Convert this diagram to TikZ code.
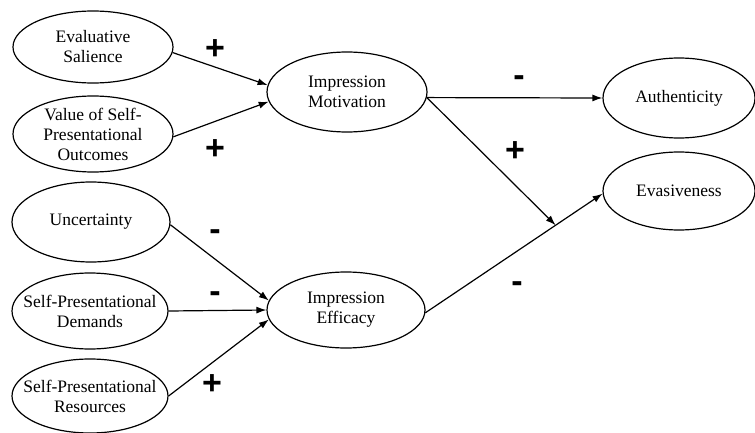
\documentclass[tikz,border=0pt]{standalone}
\usepackage{fontspec}
\setmainfont{Liberation Serif}
\newfontfamily\signfont{Liberation Sans}
\usetikzlibrary{shapes.geometric,arrows.meta,calc}
\tikzset{
  ell/.style={draw, ellipse, line width=1.2pt, inner sep=0pt},
  txt/.style={align=center, font=\fontsize{17.5}{20}\selectfont, inner sep=0pt},
  sign/.style={font=\signfont\bfseries\fontsize{34}{34}\selectfont, inner sep=0pt},
  arr/.style={line width=1.2pt, -{Latex[length=10pt,width=7pt]}},
  ln/.style={line width=1.2pt}
}
\begin{document}
\begin{tikzpicture}[x=1pt,y=-1pt]
\useasboundingbox (0,0) rectangle (755,433);
% ellipses
\node[ell, minimum width=160pt, minimum height=72pt] (es) at (93,47) {};
\node[ell, minimum width=160pt, minimum height=76pt] (vo) at (93,134) {};
\node[ell, minimum width=158pt, minimum height=80pt] (un) at (91,222) {};
\node[ell, minimum width=156pt, minimum height=76pt] (sd) at (90,311) {};
\node[ell, minimum width=156pt, minimum height=74pt] (sr) at (90,396) {};
\node[ell, minimum width=160pt, minimum height=80pt] (im) at (347,92) {};
\node[ell, minimum width=158pt, minimum height=76pt] (ie) at (346,310) {};
\node[ell, minimum width=152pt, minimum height=80pt] (au) at (679,98) {};
\node[ell, minimum width=152pt, minimum height=78pt] (ev) at (679,191) {};
% texts
\node[txt] (es-t) at (es) {Evaluative\\Salience};
\node[txt] (vo-t) at (vo) {Value of Self-\\Presentational\\Outcomes};
\node[txt] (un-t) at (un) {Uncertainty};
\node[txt] (sd-t) at (sd) {Self-Presentational\\Demands};
\node[txt] (sr-t) at (sr) {Self-Presentational\\Resources};
\node[txt] (im-t) at (im) {Impression\\Motivation};
\node[txt] (ie-t) at (ie) {Impression\\Efficacy};
\node[txt] (au-t) at (au) {Authenticity};
\node[txt] (ev-t) at (ev) {Evasiveness};
% connectors
\draw[arr] (es.-4) -- (im.175);
\draw[arr] (vo.-2) -- (im.187);
\draw[arr] (un.-2) -- (ie.173);
\draw[arr] (sd.east) -- (ie.west);
\draw[arr] (sr.0) -- (ie.187);
\draw[arr] (im.-4) -- (au.west);
\draw[arr] (ie.-2) -- (ev.182);
\coordinate (mod) at ($(ie.-2)!0.735!(ev.182)$);
\draw[arr] (im.-4) -- (mod);
% signs
\node[sign] (s1) at (215,50) {+};
\node[sign] (s2) at (215,150) {+};
\node[sign] (s3) at (519,81) {-};
\node[sign] (s4) at (515,152) {+};
\node[sign] (s5) at (215,235) {-};
\node[sign] (s6) at (215,297) {-};
\node[sign] (s7) at (517,287) {-};
\node[sign] (s8) at (212,385) {+};
\end{tikzpicture}
\end{document}
